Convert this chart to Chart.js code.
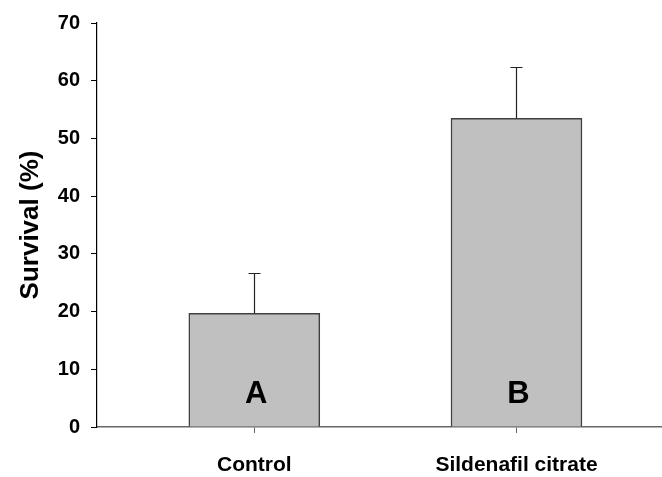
<!DOCTYPE html>
<html>
<head>
<meta charset="utf-8">
<script src="https://cdn.jsdelivr.net/npm/chart.js@4/dist/chart.umd.min.js"></script>
<style>
  html, body { margin: 0; padding: 0; background: #fff; }
  #wrap { width: 662px; height: 477px; position: relative; }
</style>
</head>
<body>
<div id="wrap"><canvas id="c" width="662" height="477"></canvas></div>
<script>
const categories = ['Control', 'Sildenafil citrate'];
const categoryPositions = [1, 2];
const survival = [19.7, 53.5];
const errors = [7.0, 8.8];
const letters = ['A', 'B'];
const yTickValues = [0, 10, 20, 30, 40, 50, 60, 70];

const FONT = "'Liberation Sans', Arial, sans-serif";

const errorBarPlugin = {
  id: 'errorBars',
  afterDatasetsDraw(chart) {
    const ctx = chart.ctx;
    const xs = chart.scales.x, ys = chart.scales.y;
    ctx.save();
    ctx.strokeStyle = '#222';
    ctx.lineWidth = 1.2;
    survival.forEach((v, i) => {
      const x = Math.round(xs.getPixelForValue(categoryPositions[i])) + 0.5;
      const y0 = ys.getPixelForValue(v);
      const y1 = Math.round(ys.getPixelForValue(v + errors[i])) + 0.5;
      ctx.beginPath();
      ctx.moveTo(x, y0);
      ctx.lineTo(x, y1);
      ctx.moveTo(x - 6, y1);
      ctx.lineTo(x + 6, y1);
      ctx.stroke();
    });
    ctx.fillStyle = '#000';
    ctx.font = "bold 31px " + FONT;
    ctx.textAlign = 'center';
    ctx.textBaseline = 'middle';
    letters.forEach((t, i) => {
      const x = xs.getPixelForValue(categoryPositions[i]) + 2;
      const y = ys.getPixelForValue(5.7);
      ctx.fillText(t, x, y);
    });
    ctx.restore();
  }
};

new Chart(document.getElementById('c'), {
  type: 'bar',
  data: {
    datasets: [{
      data: survival.map((v, i) => ({ x: categoryPositions[i], y: v })),
      backgroundColor: '#c0c0c0',
      borderColor: '#404040',
      borderWidth: 1.5,
      barThickness: 131
    }]
  },
  options: {
    responsive: false,
    animation: false,
    layout: { padding: { top: 21, right: 0, left: 0, bottom: 0 } },
    plugins: { legend: { display: false }, tooltip: { enabled: false } },
    scales: {
      x: {
        type: 'linear',
        min: 0.4,
        max: 2.555,
        offset: false,
        afterBuildTicks(scale) { scale.ticks = categoryPositions.map(v => ({ value: v })); },
        afterFit(scale) { scale.height = 50; },
        grid: { offset: false, drawOnChartArea: false, drawTicks: true, tickLength: 6, color: '#666' },
        border: { color: '#666', width: 1.5 },
        ticks: {
          color: '#000',
          font: { family: FONT, size: 21, weight: 'bold' },
          padding: 20,
          maxRotation: 0,
          autoSkip: false,
          callback(value) {
            const i = categoryPositions.indexOf(value);
            return i >= 0 ? categories[i] : '';
          }
        }
      },
      y: {
        min: 0,
        max: 70,
        afterBuildTicks(scale) { scale.ticks = yTickValues.map(v => ({ value: v })); },
        afterFit(scale) { scale.width = 97; },
        grid: { drawOnChartArea: false, drawTicks: true, tickLength: 6, color: '#000' },
        border: { color: '#000', width: 1.2 },
        ticks: {
          color: '#000',
          font: { family: FONT, size: 20, weight: 'bold' },
          padding: 11
        },
        title: {
          display: true,
          text: 'Survival (%)',
          color: '#000',
          font: { family: FONT, size: 26, weight: 'bold' },
          padding: { top: 15, bottom: 0 }
        }
      }
    }
  },
  plugins: [errorBarPlugin]
});
</script>
</body>
</html>
